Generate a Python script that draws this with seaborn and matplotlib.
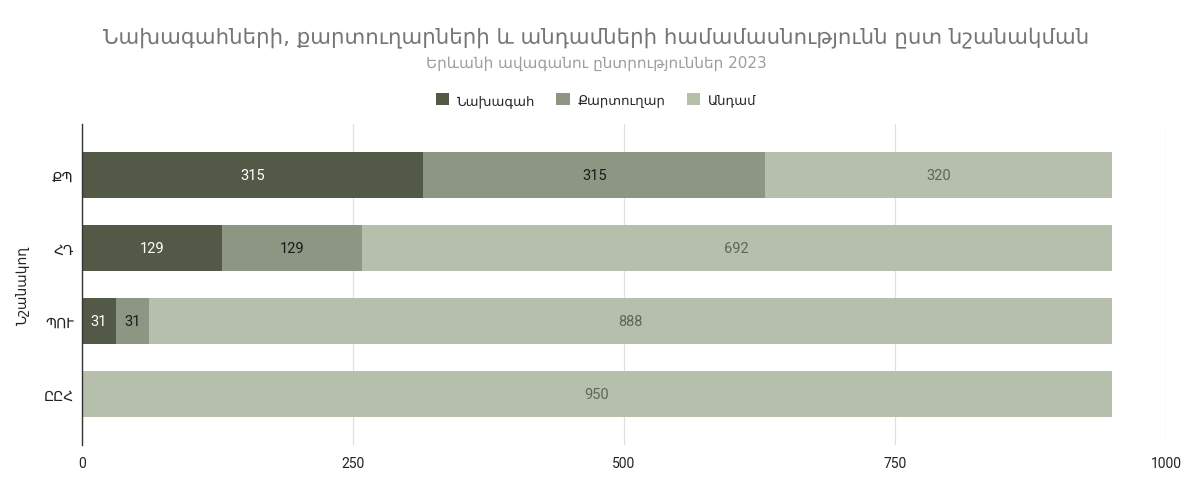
import matplotlib
matplotlib.use("Agg")
import matplotlib.pyplot as plt
import seaborn as sns
import pandas as pd
import numpy as np
from matplotlib.patches import Patch

categories = ["ՔՊ", "ՀԴ", "ՊՈՒ", "ԸԸՀ"]
series_names = ["Նախագահ", "Քարտուղար", "Անդամ"]
chair = [315, 129, 31, 0]
secretary = [315, 129, 31, 0]
member = [320, 692, 888, 950]
colors = ["#525a47", "#8c9683", "#b5bfab"]
label_colors = ["#ffffff", "#1a1a1a", "#5e6657"]
x_ticks = [0, 250, 500, 750, 1000]

title = "Նախագահների, քարտուղարների և անդամների համամասնությունն ըստ նշանակման"
subtitle = "Երևանի ավագանու ընտրություններ 2023"
ylabel = "Նշանակող"

sns.set_theme(style="white")
plt.rcParams["font.family"] = ["DejaVu Sans"]

fig = plt.figure(figsize=(11.92, 4.85), dpi=100)
ax = fig.add_axes([82/1192, 1-446/485, (1166-82)/1192, (446-125)/485])

values = [chair, secretary, member]
cum = np.cumsum(np.array(values), axis=0)
# draw cumulative totals from back to front to get stacked bars
for i in reversed(range(3)):
    df = pd.DataFrame({"cat": categories, "val": cum[i]})
    sns.barplot(data=df, x="val", y="cat", orient="h", color=colors[i],
                saturation=1, width=0.64, ax=ax, linewidth=0)

# segment labels
for i in range(3):
    starts = cum[i] - np.array(values[i])
    for j, v in enumerate(values[i]):
        if v > 0:
            ax.text(starts[j] + v / 2, j, str(v), ha="center", va="center",
                    color=label_colors[i], fontsize=10.5, family=["Roboto", "DejaVu Sans"])

ax.set_xlim(0, 1000)
ax.set_ylim(3.7, -0.7)
ax.set_xticks(x_ticks)
ax.set_xticklabels([str(t) for t in x_ticks], fontsize=10, color="#222222",
                   family=["Roboto", "DejaVu Sans"])
ax.tick_params(axis="x", length=0, pad=8)
ax.tick_params(axis="y", length=0, pad=6, labelsize=10, labelcolor="#222222")
ax.set_xlabel("")
ax.set_ylabel(ylabel, fontsize=10, color="#222222", labelpad=10)
ax.grid(axis="x", color="#e0e0e0", linewidth=0.9)
ax.set_axisbelow(True)
for s in ["top", "right", "bottom"]:
    ax.spines[s].set_visible(False)
ax.spines["left"].set_color("#333333")
ax.spines["left"].set_linewidth(1)

fig.text(0.5, 1-38/485, title, ha="center", va="center", fontsize=15.3,
         color="#757575")
fig.text(0.5, 1-63/485, subtitle, ha="center", va="center", fontsize=11,
         color="#9e9e9e")

handles = [Patch(facecolor=c, edgecolor="none") for c in colors]
fig.legend(handles, series_names, loc="center", bbox_to_anchor=(0.5, 1-101/485),
           ncol=3, frameon=False, fontsize=9.5, handlelength=1.0, handleheight=1.0,
           columnspacing=1.6, handletextpad=0.6)

fig.savefig("out.png", dpi=100)
